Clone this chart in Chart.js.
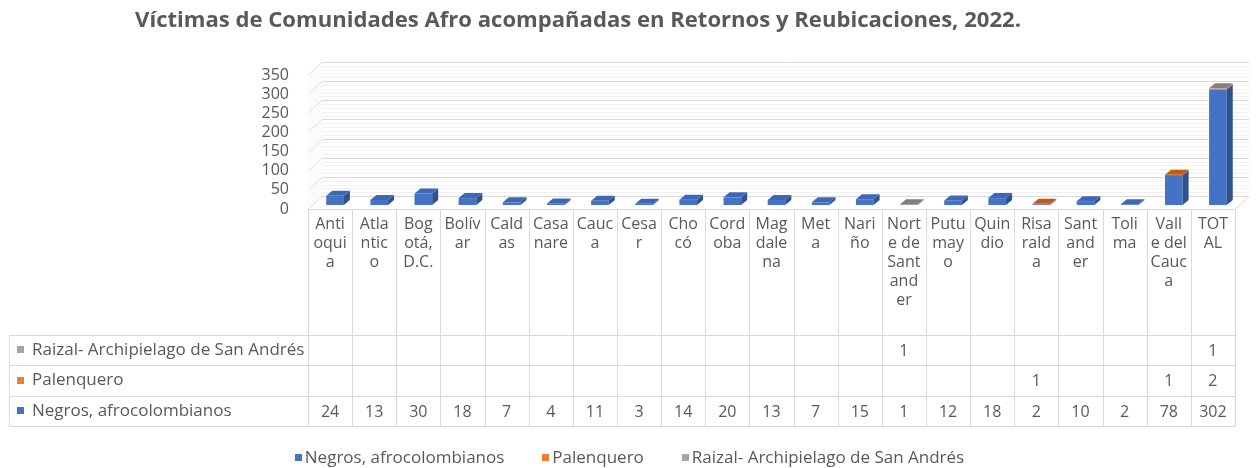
<!DOCTYPE html>
<html>
<head>
<meta charset="utf-8">
<script src="https://cdn.jsdelivr.net/npm/chart.js@4.4.0/dist/chart.umd.min.js"></script>
<style>
  html, body { margin: 0; padding: 0; background: #fff; }
  canvas { display: block; }
</style>
</head>
<body>
<canvas id="chart" width="1259" height="468"></canvas>
<script>
// === Données ===
const title = "Víctimas de Comunidades Afro acompañadas en Retornos y Reubicaciones, 2022.";

const categories = ["Antioquia", "Atlantico", "Bogotá, D.C.", "Bolívar", "Caldas", "Casanare", "Cauca",
    "Cesar", "Chocó", "Cordoba", "Magdalena", "Meta", "Nariño", "Norte de Santander", "Putumayo",
    "Quindio", "Risaralda", "Santander", "Tolima", "Valle del Cauca", "TOTAL"];

// libellés coupés comme dans le tableau
const categoryLines = [["Anti", "oqui", "a"], ["Atla", "ntic", "o"], ["Bog", "otá,", "D.C."], ["Bolív", "ar"],
    ["Cald", "as"], ["Casa", "nare"], ["Cauc", "a"], ["Cesa", "r"], ["Cho", "có"], ["Cord", "oba"],
    ["Mag", "dale", "na"], ["Met", "a"], ["Nari", "ño"], ["Nort", "e de", "Sant", "and", "er"],
    ["Putu", "may", "o"], ["Quin", "dio"], ["Risa", "rald", "a"], ["Sant", "and", "er"], ["Toli", "ma"],
    ["Vall", "e del", "Cauc", "a"], ["TOT", "AL"]];

const seriesNames = ["Negros, afrocolombianos", "Palenquero", "Raizal- Archipielago de San Andrés"];

const negros = [24, 13, 30, 18, 7, 4, 11, 3, 14, 20, 13, 7, 15, 1, 12, 18, 2, 10, 2, 78, 302];
const palenquero = [null, null, null, null, null, null, null, null, null, null, null, null, null, null,
    null, null, 1, null, null, 1, 2];
const raizal = [null, null, null, null, null, null, null, null, null, null, null, null, null, 1,
    null, null, null, null, null, null, 1];

const yTicks = [0, 50, 100, 150, 200, 250, 300, 350];

// === Styles ===
const FONT = "'Open Sans', 'Noto Sans', sans-serif";
const TXT = '#595959';
const LINE = '#D9D9D9';
const colors = [
    { front: '#4472C4', top: '#3D68B8', side: '#2F528F' },
    { front: '#ED7D31', top: '#C55A11', side: '#B05A20' },
    { front: '#A5A5A5', top: '#808080', side: '#7A7A7A' }
];
const WALL = { dx: 14, dy: -13 };   // mur du fond
const BAR = { dx: 5, dy: -4 };      // plan des barres
const DEPTH = { dx: 6, dy: -5 };    // épaisseur des barres
const ROW_TOP = 335, ROW_H = 30.4, TABLE_LEFT = 9;

function poly(ctx, pts, fill) {
    ctx.beginPath();
    ctx.moveTo(pts[0][0], pts[0][1]);
    for (let i = 1; i < pts.length; i++) ctx.lineTo(pts[i][0], pts[i][1]);
    ctx.closePath();
    ctx.fillStyle = fill;
    ctx.fill();
}

const chart3d = {
    id: 'chart3d',
    beforeDatasetsDraw(chart) {
        const { ctx, chartArea: a, scales: { y } } = chart;
        ctx.save();
        ctx.lineWidth = 1;
        // lignes fines
        ctx.strokeStyle = '#F1F1F1';
        for (let v = 0; v <= yTicks[yTicks.length - 1]; v += 10) {
            if (v % 50 === 0) continue;
            const yy = Math.round(y.getPixelForValue(v)) + 0.5;
            ctx.beginPath();
            ctx.moveTo(a.left, yy);
            ctx.lineTo(a.left + WALL.dx, yy + WALL.dy);
            ctx.lineTo(a.right + WALL.dx, yy + WALL.dy);
            ctx.stroke();
        }
        // grille principale
        ctx.strokeStyle = LINE;
        yTicks.forEach(v => {
            const yy = Math.round(y.getPixelForValue(v)) + 0.5;
            ctx.beginPath();
            ctx.moveTo(a.left, yy);
            ctx.lineTo(a.left + WALL.dx, yy + WALL.dy);
            ctx.lineTo(a.right + WALL.dx, yy + WALL.dy);
            ctx.stroke();
        });
        // sol
        const y0 = Math.round(y.getPixelForValue(0)) + 0.5;
        ctx.beginPath();
        ctx.moveTo(a.left, y0);
        ctx.lineTo(a.right, y0);
        ctx.lineTo(a.right + WALL.dx, y0 + WALL.dy);
        ctx.stroke();
        ctx.restore();

        ctx.save();
        ctx.translate(BAR.dx, BAR.dy);
    },
    afterDatasetsDraw(chart) {
        const { ctx } = chart;
        const n = categories.length;
        for (let j = 0; j < n; j++) {
            let topIdx = -1;
            chart.data.datasets.forEach((ds, i) => {
                if (ds.data[j]) topIdx = i;
            });
            chart.data.datasets.forEach((ds, i) => {
                if (!ds.data[j]) return;
                const el = chart.getDatasetMeta(i).data[j];
                const { x, y, base, width } = el.getProps(['x', 'y', 'base', 'width'], true);
                const l = x - width / 2, r = x + width / 2;
                const t = Math.min(y, base), b = Math.max(y, base);
                poly(ctx, [[r, t], [r + DEPTH.dx, t + DEPTH.dy], [r + DEPTH.dx, b + DEPTH.dy], [r, b]], colors[i].side);
                if (i === topIdx) {
                    poly(ctx, [[l, t], [l + DEPTH.dx, t + DEPTH.dy], [r + DEPTH.dx, t + DEPTH.dy], [r, t]], colors[i].top);
                }
            });
        }
        ctx.restore();
    },
    afterDraw(chart) {
        const { ctx, chartArea: a, scales: { x, y } } = chart;
        const n = categories.length;
        const colW = (a.right - a.left) / n;
        ctx.save();

        // titre
        ctx.fillStyle = TXT;
        ctx.textBaseline = 'middle';
        ctx.textAlign = 'center';
        ctx.font = `bold 20px ${FONT}`;
        const size = 20 * 886 / ctx.measureText(title).width;
        ctx.font = `bold ${size.toFixed(2)}px ${FONT}`;
        ctx.fillText(title, 578, 21);

        // tableau de données
        ctx.strokeStyle = LINE;
        ctx.lineWidth = 1;
        const y0 = Math.round(y.getPixelForValue(0)) + 1;
        const bottom = Math.round(ROW_TOP + 3 * ROW_H) + 0.5;
        for (let k = 0; k <= n; k++) {
            const xx = Math.round(a.left + k * colW) + 0.5;
            ctx.beginPath();
            ctx.moveTo(xx, y0);
            ctx.lineTo(xx, bottom);
            ctx.stroke();
        }
        ctx.beginPath();
        ctx.moveTo(TABLE_LEFT + 0.5, ROW_TOP);
        ctx.lineTo(TABLE_LEFT + 0.5, bottom);
        ctx.stroke();
        for (let r = 0; r <= 3; r++) {
            const yy = Math.round(ROW_TOP + r * ROW_H) + 0.5;
            ctx.beginPath();
            ctx.moveTo(TABLE_LEFT, yy);
            ctx.lineTo(Math.round(a.right) + 1, yy);
            ctx.stroke();
        }

        ctx.font = `16px ${FONT}`;
        ctx.fillStyle = TXT;
        categoryLines.forEach((lines, j) => {
            const cx = x.getPixelForValue(j);
            lines.forEach((s, k) => ctx.fillText(s, cx, 224 + k * 19));
        });

        // lignes du tableau, de haut en bas : Raizal, Palenquero, Negros
        const rows = [2, 1, 0];
        rows.forEach((i, r) => {
            const cy = ROW_TOP + r * ROW_H + ROW_H / 2;
            ctx.fillStyle = colors[i].front;
            ctx.fillRect(17, Math.round(cy) - 4, 7, 7);
            ctx.fillStyle = TXT;
            ctx.textAlign = 'left';
            ctx.font = `17px ${FONT}`;
            ctx.fillText(seriesNames[i], 32, cy);
            ctx.textAlign = 'center';
            ctx.font = `16px ${FONT}`;
            chart.data.datasets[i].data.forEach((v, j) => {
                if (v !== null) ctx.fillText(String(v), x.getPixelForValue(j), cy + 1);
            });
        });

        // légende
        ctx.font = `17px ${FONT}`;
        const gapBox = 3, gapItem = 38, box = 7;
        const widths = seriesNames.map(s => ctx.measureText(s).width);
        const total = widths.reduce((s, w) => s + box + gapBox + w, 0) + gapItem * (seriesNames.length - 1);
        let lx = chart.width / 2 - total / 2;
        const ly = 458;
        ctx.textAlign = 'left';
        seriesNames.forEach((s, i) => {
            ctx.fillStyle = colors[i].front;
            ctx.fillRect(Math.round(lx), ly - 4, box, box);
            ctx.fillStyle = TXT;
            ctx.fillText(s, lx + box + gapBox, ly);
            lx += box + gapBox + widths[i] + gapItem;
        });
        ctx.restore();
    }
};

const datasets = [negros, palenquero, raizal].map((d, i) => ({
    label: seriesNames[i],
    data: d,
    backgroundColor: colors[i].front,
    borderWidth: 0,
    clip: false,
    categoryPercentage: 1,
    barPercentage: 0.4
}));

new Chart(document.getElementById('chart'), {
    type: 'bar',
    data: { labels: categories, datasets: datasets },
    options: {
        responsive: false,
        animation: false,
        devicePixelRatio: 1,
        layout: { padding: { top: 75, right: 24, left: 0, bottom: 0 } },
        plugins: {
            legend: { display: false },
            title: { display: false },
            tooltip: { enabled: false }
        },
        scales: {
            x: {
                stacked: true,
                ticks: { display: false },
                grid: { display: false },
                border: { display: false },
                afterFit: scale => { scale.height = 259; }
            },
            y: {
                stacked: true,
                min: 0,
                max: 350,
                ticks: {
                    stepSize: 50, autoSkip: false, padding: 19, color: TXT,
                    font: { family: FONT, size: 16, lineHeight: 1 }
                },
                grid: { display: false, drawTicks: false },
                border: { display: false },
                afterFit: scale => { scale.width = 308; }
            }
        }
    },
    plugins: [chart3d]
});
</script>
</body>
</html>
